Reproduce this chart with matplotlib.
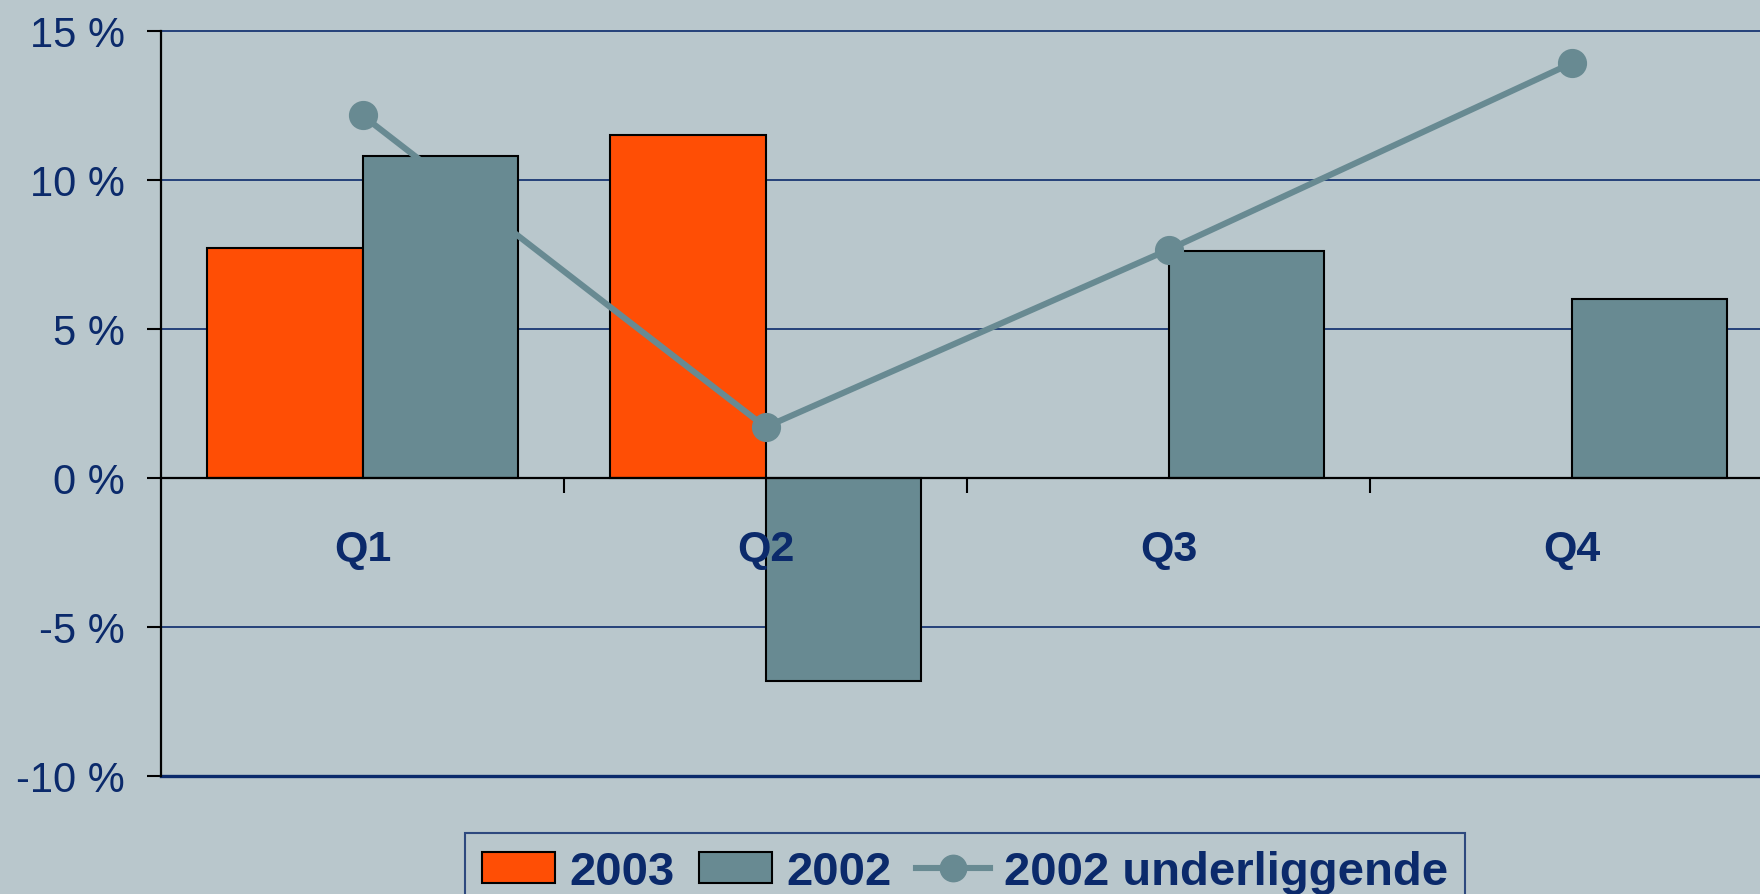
import matplotlib
matplotlib.use("Agg")
import matplotlib.pyplot as plt
from matplotlib.font_manager import FontProperties
from matplotlib.patches import Patch
from matplotlib.lines import Line2D

# ---- data ----
quarters = ["Q1", "Q2", "Q3", "Q4"]
val_2003 = [7.7, 11.5, None, None]
val_2002 = [10.8, -6.8, 7.6, 6.0]
val_2002_underlying = [12.15, 1.7, 7.65, 13.9]
yticks = [-10, -5, 0, 5, 10, 15]
ytick_labels = ["-10 %", "-5 %", "0 %", "5 %", "10 %", "15 %"]
legend_labels = ["2003", "2002", "2002 underliggende"]

# ---- style ----
BG = "#B9C7CC"
ORANGE = "#FF4E05"
GRAY = "#688A92"
NAVY = "#0B2A6B"

leg_prop = FontProperties(family="Liberation Sans", weight="bold", size=34)

fig = plt.figure(figsize=(17.6, 8.95), dpi=100, facecolor=BG)
ax = fig.add_axes([161 / 1760, 1 - 777 / 895, (1773 - 161) / 1760, (777 - 31.5) / 895])
ax.set_facecolor(BG)

x = list(range(len(quarters)))
bw = 0.385
x03 = [xi - bw / 2 for xi, v in zip(x, val_2003) if v is not None]
v03 = [v for v in val_2003 if v is not None]
ax.bar(x03, v03, width=bw, color=ORANGE, edgecolor="black", linewidth=1.5, zorder=3)
ax.bar([xi + bw / 2 for xi in x], val_2002, width=bw, color=GRAY, edgecolor="black",
       linewidth=1.5, zorder=3)
ax.plot(x, val_2002_underlying, color=GRAY, linewidth=4.4, marker="o", markersize=20,
        zorder=5, clip_on=False, solid_capstyle="butt")

ax.set_xlim(-0.5, 3.5)
ax.set_ylim(-10, 15)

# grid
for g in [15, 10, 5, -5]:
    ax.axhline(g, color=NAVY, linewidth=1.2, zorder=1, clip_on=False)
ax.axhline(-10, color=NAVY, linewidth=2.4, zorder=2, clip_on=False)

# spines
for s in ["top", "right"]:
    ax.spines[s].set_visible(False)
ax.spines["left"].set_color("black")
ax.spines["left"].set_linewidth(1.6)
ax.spines["left"].set_zorder(6)
ax.spines["bottom"].set_position(("data", 0))
ax.spines["bottom"].set_color("black")
ax.spines["bottom"].set_linewidth(1.6)
ax.spines["bottom"].set_zorder(6)

# y ticks
ax.set_yticks(yticks)
ax.set_yticklabels(ytick_labels)
ax.tick_params(axis="y", direction="out", length=10, width=1.5, color="black",
               labelsize=30, labelcolor=NAVY, pad=16)
for t in ax.get_yticklabels():
    t.set_fontfamily("Liberation Sans")

# x ticks: boundaries (major) and labels (minor)
ax.set_xticks([0.5, 1.5, 2.5])
ax.set_xticklabels([])
ax.tick_params(axis="x", which="major", direction="out", length=11, width=1.5, color="black")
ax.set_xticks(x, minor=True)
ax.set_xticklabels(quarters, minor=True)
ax.tick_params(axis="x", which="minor", length=0, labelsize=31, labelcolor=NAVY, pad=37)
for t in ax.get_xticklabels(minor=True):
    t.set_fontfamily("Liberation Sans")
    t.set_fontweight("bold")
ax.xaxis.set_zorder(7)

# legend
handles = [
    Patch(facecolor=ORANGE, edgecolor="black", linewidth=1.5),
    Patch(facecolor=GRAY, edgecolor="black", linewidth=1.5),
    Line2D([0], [0], color=GRAY, linewidth=4.4, marker="o", markersize=19),
]
leg = fig.legend(handles, legend_labels, loc="upper left",
                 bbox_to_anchor=(465 / 1760, 1 - 834 / 895), ncol=3, frameon=True,
                 fancybox=False, borderaxespad=0, borderpad=0.36,
                 handlelength=1.55, handleheight=0.63, handletextpad=0.3,
                 columnspacing=0.52, prop=leg_prop)
leg.get_frame().set_facecolor(BG)
leg.get_frame().set_edgecolor(NAVY)
leg.get_frame().set_linewidth(1.5)
for t in leg.get_texts():
    t.set_color(NAVY)

fig.savefig("out.png", dpi=100, facecolor=BG)
